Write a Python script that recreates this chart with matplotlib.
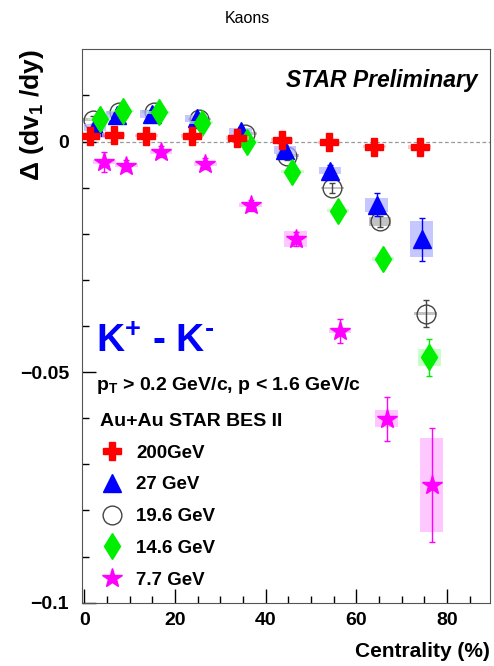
import matplotlib
matplotlib.use("Agg")
import matplotlib.pyplot as plt
from matplotlib.lines import Line2D

plt.rcParams['font.family'] = ['Liberation Sans', 'DejaVu Sans']
plt.rcParams['mathtext.default'] = 'regular'

# centrality positions (%), values and errors
x_200 = [1.2, 6.5, 13.7, 23.8, 33.8, 43.6, 54.0, 64.0, 74.0]
y_200 = [0.0013, 0.0014, 0.0013, 0.0012, 0.0007, 0.0004, -0.0002, -0.0011, -0.0012]
stat_200 = [0.0005, 0.0005, 0.0005, 0.0005, 0.0005, 0.0005, 0.0005, 0.0005, 0.0005]
sys_200 = [0.0004, 0.0004, 0.0004, 0.0004, 0.0004, 0.0004, 0.0004, 0.0004, 0.0004]

x_27 = [2.4, 7.3, 14.9, 24.8, 34.5, 44.3, 54.2, 64.5, 74.4]
y_27 = [0.0031, 0.0058, 0.0060, 0.0050, 0.0022, -0.0018, -0.0063, -0.0137, -0.0212]
stat_27 = [0.0008, 0.0008, 0.0008, 0.0008, 0.0009, 0.0010, 0.0012, 0.0025, 0.0046]
sys_27 = [0.0008, 0.0008, 0.0008, 0.0008, 0.0008, 0.0008, 0.0008, 0.0015, 0.0039]

x_19 = [2.0, 7.6, 15.3, 25.4, 35.5, 44.8, 54.7, 65.2, 75.3]
y_19 = [0.0047, 0.0063, 0.0065, 0.0049, 0.0017, -0.0031, -0.0101, -0.0173, -0.0373]
stat_19 = [0.0008, 0.0008, 0.0008, 0.0008, 0.0008, 0.0009, 0.0010, 0.0012, 0.0030]
sys_19 = [0.0003, 0.0003, 0.0003, 0.0003, 0.0003, 0.0003, 0.0003, 0.0010, 0.0003]

x_14 = [3.4, 8.5, 16.4, 25.9, 35.8, 45.9, 56.0, 65.9, 76.1]
y_14 = [0.0049, 0.0066, 0.0063, 0.0041, 0.0000, -0.0065, -0.0150, -0.0255, -0.0468]
stat_14 = [0.0008, 0.0008, 0.0008, 0.0008, 0.0008, 0.0009, 0.0010, 0.0012, 0.0040]
sys_14 = [0.0003, 0.0003, 0.0003, 0.0003, 0.0003, 0.0003, 0.0003, 0.0005, 0.0019]

x_7 = [4.4, 9.3, 16.9, 26.7, 36.7, 46.6, 56.4, 66.7, 76.6]
y_7 = [-0.0045, -0.0052, -0.0022, -0.0048, -0.0138, -0.0211, -0.0410, -0.0601, -0.0745]
stat_7 = [0.0022, 0.0012, 0.0012, 0.0012, 0.0012, 0.0015, 0.0026, 0.0048, 0.0124]
sys_7 = [0.0004, 0.0004, 0.0004, 0.0004, 0.0004, 0.0018, 0.0005, 0.0018, 0.0102]

labels = ['200GeV', '27 GeV', '19.6 GeV', '14.6 GeV', '7.7 GeV']

fig = plt.figure(figsize=(4.94, 6.66), dpi=100)
ax = fig.add_axes([0.165, 0.095, 0.827, 0.831])

ax.axhline(0, color='#999999', ls='--', lw=0.9, dashes=(3, 2), zorder=1)

def draw(x, y, stat, sys, color, box, marker, ms, mfc, z):
    ax.bar(x, [2 * s for s in sys], bottom=[v - s for v, s in zip(y, sys)],
           width=5, color=box, alpha=0.7, lw=0, zorder=z)
    ax.errorbar(x, y, yerr=stat, fmt='none', ecolor=color, elinewidth=1.0,
                capsize=2.5, capthick=1.0, zorder=z + 0.1)
    ax.plot(x, y, ls='none', marker=marker, ms=ms, mfc=mfc, mec=color,
            mew=1.0, zorder=z + 0.2)

draw(x_19, y_19, stat_19, sys_19, '#444444', '#aaaaaa', 'o', 13.5, 'none', 2)
draw(x_27, y_27, stat_27, sys_27, '#0000ff', '#b0b0ff', '^', 12.5, '#0000ff', 3)
draw(x_14, y_14, stat_14, sys_14, '#00ee00', '#b0ffb0', 'd', 13, '#00ee00', 4)
draw(x_200, y_200, stat_200, sys_200, '#ff0000', '#ffb0b0', 'P', 12.5, '#ff0000', 5)
draw(x_7, y_7, stat_7, sys_7, '#ff00ff', '#ffb0ff', '*', 15, '#ff00ff', 6)

ax.set_xlim(-0.6, 89.5)
ax.set_ylim(-0.1, 0.02)
ax.set_xticks([0, 20, 40, 60, 80])
ax.set_xticks(range(5, 90, 5), minor=True)
ax.set_yticks([-0.1, -0.05, 0])
ax.set_yticks([-0.09, -0.08, -0.07, -0.06, -0.04, -0.03, -0.02, -0.01, 0.01], minor=True)
ax.set_yticklabels(['\u22120.1', '\u22120.05', '0'])
ax.tick_params(which='both', direction='in', labelsize=14)
ax.tick_params(which='major', length=10, width=1)
ax.tick_params(which='minor', length=5, width=1)
ax.tick_params(axis='y', pad=9)
ax.tick_params(axis='x', pad=7)
for lab in ax.get_xticklabels() + ax.get_yticklabels():
    lab.set_fontweight('bold')
for sp in ax.spines.values():
    sp.set_color('#555555')

ax.set_xlabel('Centrality (%)', fontsize=15, fontweight='bold', loc='right', labelpad=9)
ax.set_ylabel('$\\Delta$ (dv$_1$ /dy)', fontsize=19, fontweight='bold', loc='top')
ax.yaxis.set_label_coords(-0.087, 1.0)

fig.text(0.5, 0.972, 'Kaons', ha='center', va='center', fontsize=11.5)
ax.text(0.97, 0.944, 'STAR Preliminary', transform=ax.transAxes, ha='right',
        va='center', fontsize=16.5, fontweight='bold', style='italic')
ax.text(0.035, 0.472, 'K$^{+}$ - K$^{\u2010}$', transform=ax.transAxes, ha='left',
        va='center', fontsize=28, fontweight='bold', color='#0000ff')
ax.text(0.035, 0.392, 'p$_{T}$ > 0.2 GeV/c, p < 1.6 GeV/c', transform=ax.transAxes,
        ha='left', va='center', fontsize=14, fontweight='bold')

handles = [
    Line2D([], [], ls='none', marker='P', ms=12.5, color='#ff0000'),
    Line2D([], [], ls='none', marker='^', ms=12.5, color='#0000ff'),
    Line2D([], [], ls='none', marker='o', ms=13.5, mfc='none', mec='#444444'),
    Line2D([], [], ls='none', marker='d', ms=13, color='#00ee00'),
    Line2D([], [], ls='none', marker='*', ms=15, color='#ff00ff'),
]
leg = ax.legend(handles, labels, title='Au+Au STAR BES II', loc='lower left',
                bbox_to_anchor=(0.005, -0.005), frameon=False, labelspacing=0.78,
                handletextpad=0.7, handlelength=1.2, alignment='left',
                prop={'size': 13.5, 'weight': 'bold'},
                title_fontproperties={'size': 14, 'weight': 'bold'})

fig.savefig('out.png', dpi=100)
